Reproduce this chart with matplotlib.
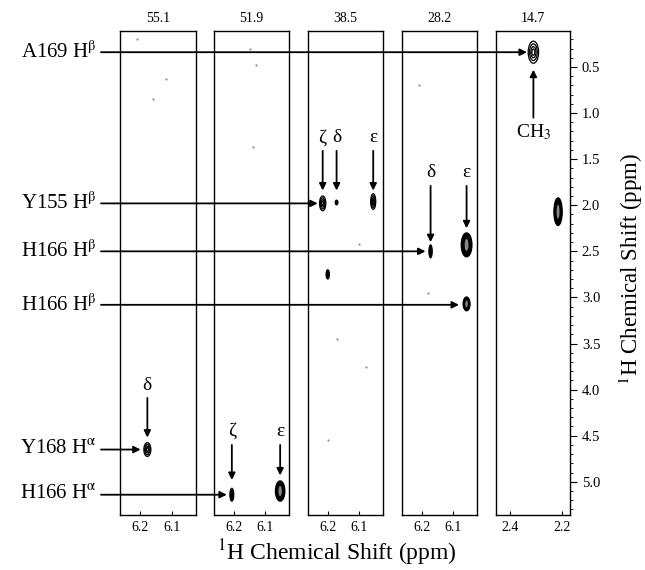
import matplotlib
matplotlib.use("Agg")
import matplotlib.pyplot as plt
from matplotlib.patches import Ellipse
from matplotlib.transforms import blended_transform_factory
from matplotlib.ticker import MultipleLocator

plt.rcParams['font.family'] = ['Liberation Serif', 'DejaVu Serif']
plt.rcParams['mathtext.fontset'] = 'stix'

# 13C strip shifts (top labels)
strip_labels = ['55.1', '51.9', '38.5', '28.2', '14.7']

# peaks: strip index, 1H x (ppm), 1H y (ppm), width, height, filled
peak_strip = [0, 1, 1, 2, 2, 2, 2, 3, 3, 3, 4, 4]
peak_x = [6.177, 6.206, 6.053, 6.216, 6.172, 6.056, 6.200, 6.172, 6.058, 6.058, 2.310, 2.215]
peak_y = [4.65, 5.14, 5.10, 1.98, 1.97, 1.96, 2.75, 2.50, 2.43, 3.07, 0.34, 2.07]
peak_w = [0.022, 0.012, 0.030, 0.020, 0.008, 0.016, 0.010, 0.010, 0.034, 0.022, 0.040, 0.032]
peak_h = [0.15, 0.14, 0.22, 0.16, 0.05, 0.17, 0.10, 0.14, 0.26, 0.15, 0.24, 0.30]
peak_fill = [False, False, True, False, False, False, False, False, True, True, False, True]

# small noise specks
speck_strip = [0, 0, 0, 1, 1, 1, 2, 2, 2, 2, 3, 3]
speck_x = [6.21, 6.12, 6.16, 6.13, 6.14, 6.15, 6.20, 6.08, 6.10, 6.17, 6.18, 6.21]
speck_y = [0.20, 0.63, 0.85, 0.48, 1.37, 0.30, 4.55, 3.75, 2.42, 3.45, 2.95, 0.70]

# left assignment labels, arrow target (strip, x, y)
assign_labels = [r'A169 H$^{\mathrm{\beta}}$', r'Y155 H$^{\mathrm{\beta}}$', r'H166 H$^{\mathrm{\beta}}$',
                 r'H166 H$^{\mathrm{\beta}}$', r'Y168 H$^{\mathrm{\alpha}}$', r'H166 H$^{\mathrm{\alpha}}$']
assign_strip = [4, 2, 3, 3, 0, 1]
assign_x = [2.335, 6.232, 6.188, 6.082, 6.198, 6.222]
assign_y = [0.34, 1.98, 2.50, 3.08, 4.65, 5.14]

# side-chain labels with vertical arrows: strip, x, text y, arrow start, arrow end
side_labels = ['ζ', 'δ', 'ε', 'δ', 'ε', 'δ', 'ζ', 'ε']
side_strip = [2, 2, 2, 3, 3, 0, 1, 1]
side_x = [6.216, 6.172, 6.056, 6.172, 6.058, 6.177, 6.206, 6.053]
side_ty = [1.27, 1.27, 1.27, 1.64, 1.64, 3.96, 4.45, 4.45]
side_a0 = [1.41, 1.41, 1.41, 1.79, 1.79, 4.09, 4.60, 4.60]
side_a1 = [1.84, 1.84, 1.84, 2.40, 2.25, 4.52, 4.98, 4.93]

fig = plt.figure(figsize=(6.45, 5.7), dpi=100)
W, H = 645.0, 570.0
left_px = [120, 214, 308, 402, 496]
right_px = [196, 289, 383, 477, 570]
top_px, bot_px = 31, 515

axes = []
for i in range(5):
    ax = fig.add_axes([left_px[i] / W, 1 - bot_px / H, (right_px[i] - left_px[i]) / W, (bot_px - top_px) / H])
    ax.set_ylim(5.36, 0.11)
    if i < 4:
        ax.set_xlim(6.2625, 6.025)
        ax.set_xticks([6.2, 6.1])
    else:
        ax.set_xlim(2.454, 2.169)
        ax.set_xticks([2.4, 2.2])
    ax.tick_params(axis='x', direction='in', length=3, labelsize=10, pad=4)
    if i < 4:
        ax.set_yticks([])
    else:
        ax.yaxis.tick_right()
        ax.yaxis.set_major_locator(MultipleLocator(0.5))
        ax.yaxis.set_minor_locator(MultipleLocator(0.1))
        ax.tick_params(axis='y', which='major', direction='out', length=5, labelsize=10.5)
        ax.tick_params(axis='y', which='minor', direction='out', length=2.5)
    for s in ax.spines.values():
        s.set_linewidth(1.0)
    ax.text(0.5, 1.012, strip_labels[i], transform=ax.transAxes, ha='center', va='bottom', fontsize=10)
    axes.append(ax)

# peaks as concentric contour rings
for k in range(len(peak_x)):
    ax = axes[peak_strip[k]]
    for sc in [1.0, 0.75, 0.5, 0.28]:
        ax.add_patch(Ellipse((peak_x[k], peak_y[k]), peak_w[k] * sc, peak_h[k] * sc,
                             facecolor='black' if (peak_fill[k] and sc == 1.0) else 'none',
                             edgecolor='black', lw=0.9))
    if peak_fill[k]:
        ax.add_patch(Ellipse((peak_x[k], peak_y[k]), peak_w[k] * 0.35, peak_h[k] * 0.5,
                             facecolor='#888888', edgecolor='none'))

for k in range(len(speck_x)):
    axes[speck_strip[k]].plot(speck_x[k], speck_y[k], '.', color='#777777', ms=1.0)

# horizontal assignment arrows from left labels
for k in range(len(assign_labels)):
    ax = axes[assign_strip[k]]
    tr = blended_transform_factory(fig.transFigure, ax.transData)
    ax.annotate('', xy=(assign_x[k], assign_y[k]), xycoords='data',
                xytext=(101 / W, assign_y[k]), textcoords=tr,
                arrowprops=dict(arrowstyle='-|>', color='black', lw=1.3, mutation_scale=10,
                                shrinkA=0, shrinkB=0), annotation_clip=False)
    ax.text(97 / W, assign_y[k], assign_labels[k], transform=tr, ha='right', va='center',
            fontsize=15, clip_on=False)

# vertical arrows for side-chain atoms
for k in range(len(side_labels)):
    ax = axes[side_strip[k]]
    ax.text(side_x[k], side_ty[k], side_labels[k], ha='center', va='center', fontsize=14)
    ax.annotate('', xy=(side_x[k], side_a1[k]), xytext=(side_x[k], side_a0[k]),
                arrowprops=dict(arrowstyle='-|>', color='black', lw=1.3, mutation_scale=10,
                                shrinkA=0, shrinkB=0))

# CH3 label pointing up at the methyl peak
ax = axes[4]
ax.text(2.31, 1.21, r'CH$_3$', ha='center', va='center', fontsize=14)
ax.annotate('', xy=(2.31, 0.53), xytext=(2.31, 1.05),
            arrowprops=dict(arrowstyle='-|>', color='black', lw=1.3, mutation_scale=10,
                            shrinkA=0, shrinkB=0))

fig.text(337 / W, 1 - 553 / H, r'$^{1}$H Chemical Shift (ppm)', ha='center', va='center', fontsize=17)
fig.text(631 / W, 1 - 269 / H, r'$^{1}$H Chemical Shift (ppm)', ha='center', va='center',
         fontsize=16.5, rotation=90)

fig.savefig('out.png', dpi=100)
